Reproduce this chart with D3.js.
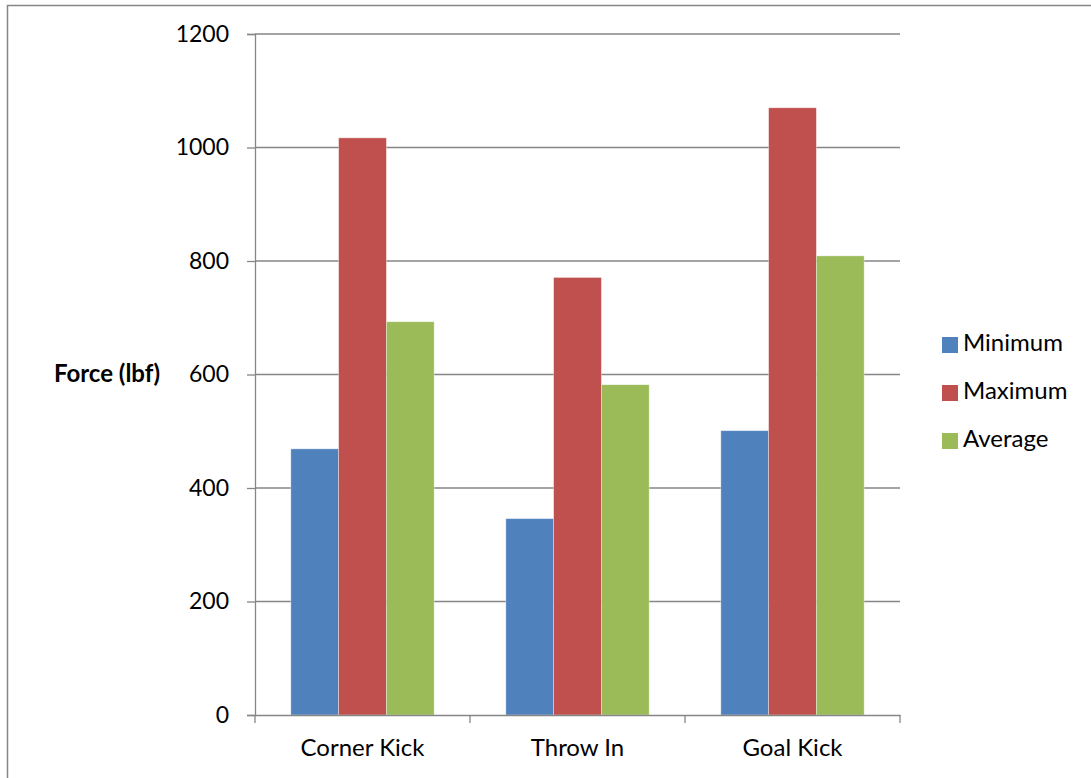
<!DOCTYPE html>
<html>
<head>
<meta charset="utf-8">
<script src="https://cdn.jsdelivr.net/npm/d3@7"></script>
<style>
  html, body { margin: 0; padding: 0; background: #fff; }
  svg { display: block; }
  text { font-family: Lato, "Open Sans", sans-serif; fill: #000; }
</style>
</head>
<body>
<svg id="chart" width="1091" height="778"></svg>
<script>
// Kick/throw force measurements (lbf)
const categories = ["Corner Kick", "Throw In", "Goal Kick"];
const seriesNames = ["Minimum", "Maximum", "Average"];
const minimum = [469, 346, 501];
const maximum = [1017, 771, 1070];
const average = [693, 582, 809];
const yTicks = [0, 200, 400, 600, 800, 1000, 1200];
const colors = ["#4F81BD", "#C0504D", "#9BBB59"];

const seriesValues = [minimum, maximum, average];
const rows = categories.map((c, i) => ({
  category: c,
  values: seriesNames.map((s, j) => ({ series: s, value: seriesValues[j][i], idx: j }))
}));

const svg = d3.select("#chart");

// outer chart frame
svg.append("rect")
  .attr("x", 7.5).attr("y", 5.5)
  .attr("width", 1200).attr("height", 900)
  .attr("fill", "none").attr("stroke", "#868686").attr("stroke-width", 1.5);

const plot = { left: 255, right: 900, top: 34, bottom: 715 };

const x = d3.scaleBand().domain(categories).range([plot.left, plot.right]).paddingInner(0).paddingOuter(0);
const gapRatio = 1.5; // gap between groups as a fraction of one bar's width
const barW = x.bandwidth() / (seriesNames.length + gapRatio);
const xs = d3.scaleBand().domain(seriesNames)
  .range([barW * gapRatio / 2, barW * gapRatio / 2 + barW * seriesNames.length]);

const y = d3.scaleLinear().domain([0, 1200]).range([plot.bottom, plot.top]);

// gridlines
svg.append("g").selectAll("line").data(yTicks.filter(t => t > 0)).join("line")
  .attr("x1", plot.left).attr("x2", plot.right)
  .attr("y1", d => y(d)).attr("y2", d => y(d))
  .attr("stroke", "#868686").attr("stroke-width", 1.3);

// bars
const groups = svg.append("g").selectAll("g").data(rows).join("g")
  .attr("transform", d => `translate(${x(d.category)},0)`);
groups.selectAll("rect").data(d => d.values).join("rect")
  .attr("x", d => xs(d.series))
  .attr("width", xs.bandwidth())
  .attr("y", d => y(d.value))
  .attr("height", d => y(0) - y(d.value))
  .attr("fill", d => colors[d.idx])
  .attr("stroke", "rgba(255,255,255,0.45)")
  .attr("stroke-width", 0.8);

// y axis
const yAxis = d3.axisLeft(y).tickValues(yTicks).tickSize(8).tickPadding(18).tickFormat(d3.format("d"));
const gy = svg.append("g").attr("transform", `translate(${plot.left},0)`).call(yAxis);
gy.select(".domain").attr("stroke", "#868686").attr("stroke-width", 1.3);
gy.selectAll(".tick line").attr("stroke", "#868686").attr("stroke-width", 1.3);
gy.selectAll(".tick text").attr("font-size", 23).attr("font-family", "Lato, sans-serif");

// x axis
const xAxis = d3.axisBottom(x).tickSize(0).tickPadding(24);
const gx = svg.append("g").attr("transform", `translate(0,${plot.bottom})`).call(xAxis);
gx.select(".domain").attr("stroke", "#868686").attr("stroke-width", 1.3);
gx.selectAll(".tick text").attr("font-size", 24).attr("font-family", "Lato, sans-serif");
// category boundary tick marks
const bounds = categories.map(c => x(c)).concat([x(categories[categories.length - 1]) + x.bandwidth()]);
svg.append("g").selectAll("line").data(bounds).join("line")
  .attr("x1", d => d).attr("x2", d => d)
  .attr("y1", plot.bottom).attr("y2", plot.bottom + 8)
  .attr("stroke", "#868686").attr("stroke-width", 1.3);

// y axis title
svg.append("text")
  .attr("x", 107).attr("y", 376)
  .attr("text-anchor", "middle").attr("dominant-baseline", "middle")
  .attr("font-size", 24).attr("font-weight", "bold")
  .text("Force (lbf)");

// legend
const legend = svg.append("g").selectAll("g").data(seriesNames).join("g")
  .attr("transform", (d, i) => `translate(942,${345 + i * 48})`);
legend.append("rect").attr("x", 0).attr("y", -8).attr("width", 16).attr("height", 16)
  .attr("fill", (d, i) => colors[i]);
legend.append("text").attr("x", 21).attr("y", 0)
  .attr("dominant-baseline", "middle").attr("font-size", 24)
  .text(d => d);
</script>
</body>
</html>
